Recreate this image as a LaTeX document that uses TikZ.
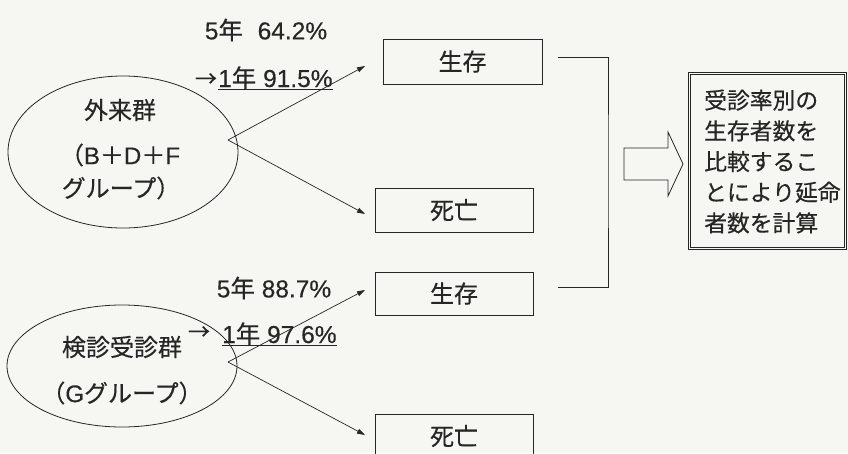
\documentclass[tikz,border=0pt]{standalone}
\usepackage{fontspec}
\setmainfont{Liberation Sans}
\newfontfamily\jp[FakeBold=0.4]{Noto Sans CJK JP}
\newfontfamily\lat[FakeBold=0.3]{Liberation Sans}
\usetikzlibrary{arrows.meta,shapes.geometric}
\definecolor{ink}{RGB}{38,38,38}
\definecolor{paper}{RGB}{246,246,243}
\begin{document}
\begin{tikzpicture}[x=1pt,y=-1pt,
  every node/.style={text=ink},
  txt/.style={font=\fontsize{24}{28}\selectfont\jp, inner sep=0pt},
  lbl/.style={font=\fontsize{24.5}{28}\selectfont\lat, inner sep=0pt},
  grp/.style={draw=ink, line width=0.8pt, ellipse, inner sep=0pt},
  outbox/.style={draw=ink, line width=0.9pt, inner sep=0pt, minimum width=158pt, minimum height=44pt, font=\fontsize{24}{28}\selectfont\jp},
  resbox/.style={draw=ink, line width=0.7pt, double=paper, double distance=1.6pt, inner sep=0pt, minimum width=156pt, minimum height=175pt},
  branch/.style={draw=ink, line width=0.7pt, -{Triangle[length=8pt,width=5pt]}},
  link/.style={draw=ink, line width=0.8pt},
  blockarrow/.style={draw=ink, line width=0.8pt, fill=paper, line join=miter}
]
\useasboundingbox (0,0) rectangle (848,453);
\clip (0,0) rectangle (848,453);
\fill[paper] (0,0) rectangle (848,453);

% groups
\node[grp, minimum width=230pt, minimum height=152pt] (g1) at (123,152) {};
\node[txt] (g1a) at (120,110) {外来群};
\node[txt] (g1b) at (120,155) {（{\lat B}＋{\lat D}＋{\lat F}};
\node[txt] (g1c) at (121,188) {グループ）};

\node[grp, minimum width=230pt, minimum height=122pt] (g2) at (122,366) {};
\node[txt] (g2a) at (122,347) {検診受診群};
\node[txt] (g2b) at (122,393) {（{\lat G}グループ）};

% outcome boxes
\node[outbox, minimum width=159pt, minimum height=45pt] (s1) at (462.5,61.5) {生存};
\node[outbox] (d1) at (454,210) {死亡};
\node[outbox, minimum height=43pt] (s2) at (454,293.5) {生存};
\node[outbox] (d2) at (454,436) {死亡};

% branch points and arrow ends
\coordinate (o1) at (228,140);
\coordinate (o2) at (228,362);
\coordinate (t1) at (365,66);
\coordinate (t2) at (365,214);
\coordinate (t3) at (365,290);
\coordinate (t4) at (365,435);
\draw[branch] (o1) -- (t1);
\draw[branch] (o1) -- (t2);
\draw[branch] (o2) -- (t3);
\draw[branch] (o2) -- (t4);

% rate labels
\node[lbl] (r1) at (266,30) {5{\jp 年}\hspace{0.6em}64.2\%};
\node[txt, font=\fontsize{22}{26}\selectfont\jp] (a1) at (206,80) {→};
\node[lbl, anchor=base west] (u1) at (218,87) {1{\jp 年} 91.5\%};
\draw[link, line width=0.9pt] ([yshift=-2.5pt]u1.base west) -- ([yshift=-2.5pt]u1.base east);

\node[lbl] (r2) at (274,288) {5{\jp 年} 88.7\%};
\node[txt, font=\fontsize{22}{26}\selectfont\jp] (a2) at (199,333) {→};
\node[lbl, anchor=base west] (u2) at (222,343) {1{\jp 年} 97.6\%};
\draw[link, line width=0.9pt] ([yshift=-2.5pt]u2.base west) -- ([yshift=-2.5pt]u2.base east);

% bracket
\coordinate (c1) at (558,57);
\coordinate (c2) at (558,287);
\coordinate (k) at (608,170);
\draw[link] (c1) -| (k) |- (c2);

% block arrow
\draw[blockarrow] (624,148) -- (668,148) -- (668,132) -- (683,164) -- (668,196) -- (668,180) -- (624,180) -- cycle;

% result
\node[resbox] (res) at (767.5,161) {};
\node[font=\fontsize{22.8}{30.7}\selectfont\jp, align=left, inner sep=0pt, anchor=west] (rest) at (704,161.5)
  {受診率別の\\生存者数を\\比較するこ\\とにより延命\\者数を計算};
\end{tikzpicture}
\end{document}
